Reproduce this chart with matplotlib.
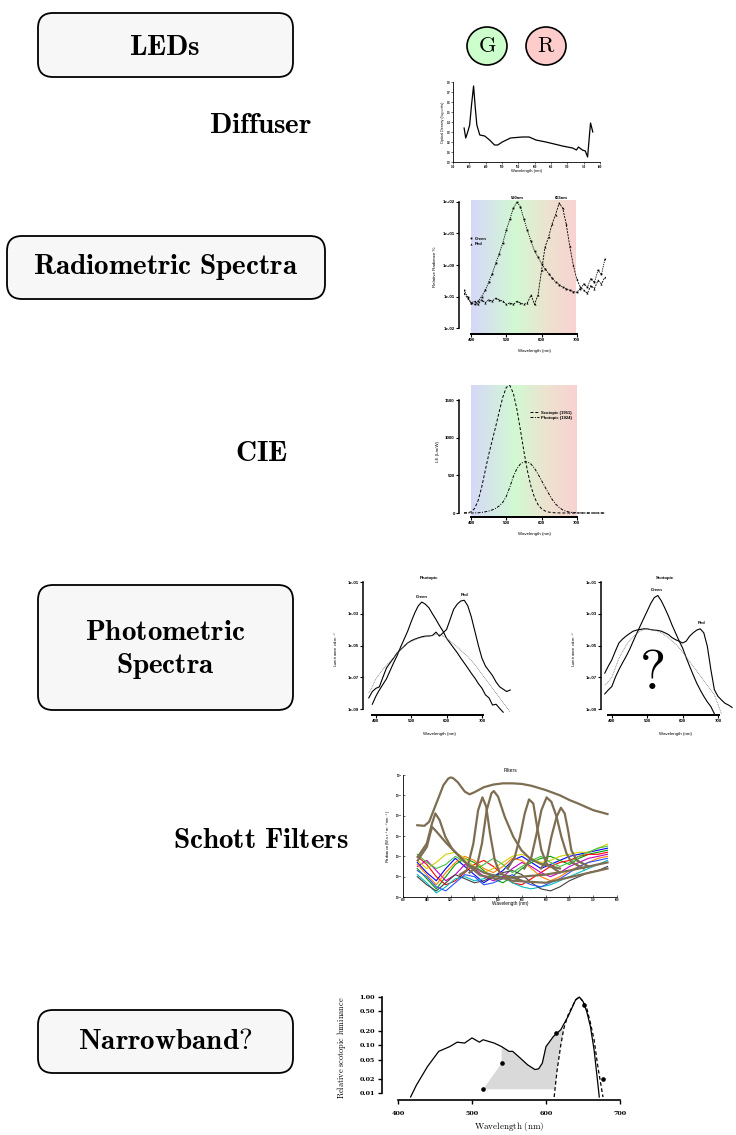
import numpy as np
import matplotlib.pyplot as plt
from matplotlib.patches import FancyBboxPatch, Ellipse
from matplotlib.colors import LinearSegmentedColormap
from matplotlib.ticker import FuncFormatter, FixedLocator, NullLocator

# ---------------- data ----------------
diff_wl = [384, 389, 395, 401, 407, 413, 418, 423, 432, 447, 462, 477, 487, 501, 526,
           562, 583, 604, 634, 660, 685, 716, 728, 734, 746, 755, 762, 771, 778]
diff_od = [0.34, 0.24, 0.30, 0.37, 0.58, 0.76, 0.55, 0.37, 0.27, 0.26, 0.22, 0.17, 0.17, 0.20, 0.24,
           0.25, 0.25, 0.22, 0.20, 0.18, 0.16, 0.14, 0.12, 0.15, 0.12, 0.11, 0.05, 0.39, 0.30]

rad_wl = list(range(380, 790, 10))
rad_green_log = [-0.80, -1.0, -1.2, -1.25, -1.15, -1.0, -0.8, -0.55, -0.27, 0.05, 0.36, 0.7, 1.1, 1.45,
                 1.8, 2.0, 1.85, 1.45, 1.1, 0.75, 0.45, 0.25, 0.04, -0.12, -0.27, -0.42, -0.54, -0.62,
                 -0.7, -0.75, -0.8, -0.84, -0.86, -0.75, -0.6, -0.7, -0.43, -0.55, -0.17, -0.3, 0.2]
rad_red_log = [-0.9, -1.05, -1.2, -1.15, -1.25, -1.1, -1.2, -1.1, -1.15, -1.05, -1.1, -1.15, -1.25, -1.2,
               -1.25, -1.15, -1.2, -1.25, -1.2, -0.95, -1.25, -0.95, -0.17, 0.57, 0.89, 1.31, 1.6, 1.97,
               1.8, 1.3, 0.6, 0.0, -0.45, -0.7, -0.8, -0.9, -0.65, -0.75, -0.49, -0.6, -0.38]

cie_wl = list(range(380, 790, 10))
scotopic = [1.0, 3.8, 15.8, 59.2, 164.2, 339.7, 557.8, 773.5, 963.9, 1149.2, 1348.1, 1536.8, 1669.4,
            1694.9, 1589.5, 1378.7, 1105.0, 817.7, 559.0, 352.9, 206.0, 111.4, 56.4, 27.1, 12.5, 5.7,
            2.5, 1.2, 0.5, 0.3, 0.1, 0.1, 0.0, 0.0, 0.0, 0.0, 0.0, 0.0, 0.0, 0.0, 0.0]
photopic = [0.03, 0.08, 0.27, 0.82, 2.73, 7.92, 15.7, 26.0, 41.0, 62.2, 94.9, 142.1, 220.6, 343.5,
            484.9, 588.7, 651.6, 679.6, 679.6, 650.2, 594.2, 517.0, 431.0, 343.5, 260.2, 181.0, 119.5,
            73.1, 41.7, 21.9, 11.6, 5.6, 2.8, 1.4, 0.7, 0.4, 0.2, 0.1, 0.04, 0.02, 0.01]

# photometric spectra, log10 luminance
pho_wl = list(range(380, 790, 10))
pho_green_log = [np.nan, -8.7, -8.2, -7.8, -7.45, -7.1, -6.6, -6.1, -5.65, -5.1, -4.6, -4.1, -3.5, -2.95,
                 -2.5, -2.26, -2.4, -2.62, -3.0, -3.36, -3.75, -4.1, -4.55, -4.85, -5.15, -5.45, -5.79,
                 -6.1, -6.42, -6.75, -7.05, -7.4, -7.69, -8.11, -8.3, -8.75, -8.7, -8.96, -9.2, np.nan, np.nan]
pho_red_log = [-8.3, -7.9, -7.7, -7.6, -7.0, -6.42, -6.1, -5.8, -5.47, -5.25, -5.05, -4.84, -4.7, -4.6,
               -4.52, -4.45, -4.41, -4.4, -4.37, -4.16, -4.41, -4.2, -3.99, -3.36, -2.72, -2.4, -2.2,
               -2.15, -2.5, -3.2, -4.1, -5.0, -5.8, -6.3, -6.6, -6.9, -7.3, -7.6, -7.75, -7.9, -7.8]
pho_ref_log = [-8.0, -7.6, -7.1, -6.8, -6.5, -6.25, -6.0, -5.75, -5.5, -5.25, -5.0, -4.85, -4.75, -4.65,
               -4.55, -4.5, -4.45, -4.4, -4.35, -4.3, -4.3, -4.4, -4.55, -4.7, -4.9, -5.1, -5.3, -5.5,
               -5.7, -5.95, -6.2, -6.5, -6.8, -7.1, -7.4, -7.7, -8.0, -8.3, -8.6, -8.9, -9.2]

sco_wl = list(range(380, 750, 10))
sco_green_log = [-8.05, -7.8, -7.58, -7.0, -6.52, -6.1, -5.7, -5.26, -4.75, -4.25, -3.78, -3.3, -2.83,
                 -2.35, -1.98, -1.85, -2.19, -2.65, -3.14, -3.7, -4.2, -4.7, -5.15, -5.75, -6.31, -6.85,
                 -7.37, -7.8, -8.2, -8.55, -8.85, -9.3, np.nan, np.nan, np.nan, np.nan, np.nan]
sco_red_log = [-6.74, -6.3, -5.9, -5.35, -4.84, -4.6, -4.41, -4.25, -4.1, -4.03, -3.99, -3.95, -3.95,
               -4.0, -4.03, -4.05, -4.1, -4.2, -4.31, -4.5, -4.63, -4.73, -4.84, -4.73, -4.41, -4.2,
               -4.03, -3.95, -4.2, -5.05, -6.52, -7.79, -8.2, -8.43, -8.64, -8.75, -8.9]
sco_ref_log = [-7.5, -7.3, -7.0, -6.4, -5.8, -5.4, -5.0, -4.7, -4.45, -4.25, -4.1, -4.0, -3.95, -4.0,
               -4.05, -4.1, -4.2, -4.35, -4.5, -4.7, -4.9, -5.15, -5.4, -5.7, -6.0, -6.3, -6.6, -6.9,
               -7.2, -7.5, -7.8, -8.1, -8.7, -9.3, np.nan, np.nan, np.nan]

# Schott filters, log10 radiance
filt_broad_wl = [380, 395, 405, 420, 435, 445, 450, 455, 465, 480, 490, 500, 520, 540, 560, 580, 600,
                 620, 650, 680, 700, 720, 750, 780]
filt_broad_log = [-2.47, -2.5, -2.3, -1.4, -0.5, -0.18, -0.12, -0.15, -0.35, -0.82, -0.95, -0.85, -0.6,
                  -0.47, -0.41, -0.41, -0.44, -0.53, -0.74, -1.0, -1.23, -1.42, -1.73, -1.92]
filt_peak_wl = [
    [381, 400, 411, 418, 427, 439, 453, 470, 491, 512, 547, 600, 650, 700, 780],
    [381, 400, 411, 421, 442, 463, 484, 520, 580, 650, 780],
    [470, 484, 498, 508, 517, 525, 533, 543, 554, 600],
    [490, 505, 516, 526, 536, 541, 550, 564, 582, 599, 617, 638, 680],
    [570, 585, 596, 606, 615, 624, 632, 641, 652, 680],
    [605, 620, 631, 641, 652, 662, 673, 683, 694, 704, 730],
    [640, 652, 662, 673, 682, 690, 697, 704, 715, 740],
]
filt_peak_log = [
    [-4.03, -3.37, -2.38, -1.89, -2.22, -3.04, -3.62, -4.03, -4.52, -4.93, -5.1, -5.0, -4.9, -4.7, -4.3],
    [-4.2, -3.54, -2.55, -2.8, -3.37, -3.87, -4.36, -4.8, -5.2, -5.3, -4.6],
    [-4.9, -4.69, -3.37, -1.73, -1.1, -1.56, -2.88, -4.19, -4.85, -5.2],
    [-4.8, -4.52, -3.37, -1.73, -0.9, -0.79, -1.07, -2.06, -3.04, -3.7, -4.11, -4.36, -4.6],
    [-4.6, -4.03, -3.04, -1.89, -1.2, -1.4, -2.55, -3.7, -4.36, -4.8],
    [-4.6, -4.03, -2.88, -1.73, -1.1, -1.32, -2.06, -3.04, -3.87, -4.28, -4.6],
    [-4.6, -4.19, -3.04, -2.06, -1.61, -1.89, -2.71, -3.7, -4.19, -4.5],
]
noise_wl = list(range(380, 790, 20))
noise_log = [
    [-4.3, -4.8, -5.2, -4.6, -4.1, -4.5, -4.9, -5.3, -5.0, -4.7, -4.2, -4.0, -4.3, -4.6, -4.4, -4.2, -4.0, -3.9, -3.8, -3.7, -3.6],
    [-4.6, -5.1, -5.6, -5.0, -4.4, -4.1, -4.3, -4.7, -5.1, -5.3, -5.0, -4.6, -4.3, -4.1, -4.0, -4.2, -4.4, -4.1, -3.9, -3.8, -3.7],
    [-4.0, -4.4, -5.0, -5.4, -5.2, -4.8, -4.4, -4.2, -4.5, -4.9, -5.3, -5.4, -5.1, -4.8, -4.5, -4.3, -4.2, -4.0, -3.9, -3.9, -3.8],
    [-4.9, -5.3, -5.8, -5.5, -5.1, -5.0, -5.2, -5.1, -4.9, -5.0, -5.3, -5.5, -5.6, -5.5, -5.4, -5.2, -5.0, -4.8, -4.6, -4.4, -4.2],
    [-4.5, -4.2, -4.7, -5.2, -4.9, -4.4, -4.6, -5.0, -5.2, -5.0, -4.6, -4.3, -4.5, -4.8, -5.0, -4.8, -4.5, -4.3, -4.1, -4.0, -3.9],
    [-4.2, -4.6, -4.3, -3.9, -3.8, -4.1, -4.5, -4.8, -4.6, -4.3, -4.0, -3.9, -4.1, -4.3, -4.2, -4.0, -3.9, -3.8, -3.8, -3.6, -3.4],
    [-5.0, -5.4, -5.7, -5.3, -4.9, -5.1, -5.3, -5.2, -5.0, -4.8, -4.7, -4.9, -5.3, -5.6, -5.7, -5.5, -5.2, -5.0, -4.8, -4.7, -4.5],
    [-4.4, -4.9, -5.4, -4.8, -4.3, -4.0, -4.2, -4.6, -4.8, -4.5, -4.1, -4.2, -4.6, -5.0, -5.2, -5.0, -4.7, -4.5, -4.3, -4.1, -4.0],
    [-4.7, -5.0, -5.5, -5.7, -5.3, -4.9, -5.0, -5.4, -5.3, -5.1, -4.9, -5.2, -5.4, -5.5, -5.3, -5.1, -4.8, -4.5, -4.3, -4.2, -4.1],
    [-3.9, -4.3, -4.6, -4.4, -4.0, -4.3, -4.7, -4.4, -4.1, -4.4, -4.8, -4.5, -4.2, -4.0, -4.3, -4.5, -4.3, -4.0, -3.8, -3.6, -3.5],
]
noise_colors = ['#0000ff', '#00a000', '#ff0000', '#00c0c0', '#c000c0', '#d0d000', '#404040',
                '#ff8000', '#3050ff', '#40c040']

# narrowband
nb_wl = [417, 425, 440, 455, 470, 480, 490, 500, 510, 515, 530, 540, 550, 555, 565, 575, 585, 590,
         595, 600, 610, 620, 630, 640, 645, 650, 655, 660, 665, 670, 672]
nb_lum = [0.0083, 0.0148, 0.036, 0.074, 0.093, 0.115, 0.11, 0.141, 0.115, 0.129, 0.11, 0.093, 0.074,
          0.074, 0.054, 0.039, 0.031, 0.032, 0.042, 0.093, 0.151, 0.209, 0.40, 0.87, 1.0, 0.81, 0.5,
          0.245, 0.079, 0.016, 0.0083]
nb_filt_wl = [611, 615, 620, 624, 630, 640, 645, 650, 655, 660, 665, 670, 677]
nb_filt = [0.0083, 0.03, 0.1, 0.22, 0.43, 0.87, 1.0, 0.81, 0.59, 0.29, 0.129, 0.036, 0.0083]
nb_pts_wl = [515, 540, 614, 652, 677]
nb_pts = [0.012, 0.042, 0.178, 0.69, 0.0195]
shade_wl = [515, 540, 540, 550, 555, 565, 575, 585, 590, 595, 600, 610, 620, 624, 620, 615, 612]
shade_val = [0.012, 0.042, 0.093, 0.074, 0.074, 0.054, 0.039, 0.031, 0.032, 0.042, 0.093, 0.151,
             0.209, 0.22, 0.1, 0.03, 0.012]

# ---------------- figure ----------------
plt.rcParams['mathtext.fontset'] = 'cm'
plt.rcParams['font.family'] = ['Liberation Sans', 'DejaVu Sans']
plt.rcParams['font.weight'] = 'bold'

W, H = 736, 1135
fig = plt.figure(figsize=(7.36, 11.35), dpi=100)


def rect(l, t, r, b):
    return [l / W, 1 - b / H, (r - l) / W, (b - t) / H]


spec_cmap = LinearSegmentedColormap.from_list(
    'spec', [(0, '#d6d8f8'), (0.42, '#d2f9d2'), (0.72, '#ede2cf'), (1, '#f9d2d2')])


def gradient(ax):
    g = np.linspace(0, 1, 256)[None, :]
    ax.imshow(g, cmap=spec_cmap, extent=(400, 700, 0, 1), transform=ax.get_xaxis_transform(),
              aspect='auto', zorder=0)


def prism(ax, out, fs=3.2, lw=1.1):
    for s in ['top', 'right']:
        ax.spines[s].set_visible(False)
    ax.spines['left'].set_position(('outward', out))
    ax.spines['left'].set_linewidth(lw)
    ax.spines['bottom'].set_linewidth(lw * 1.3)
    ax.tick_params(labelsize=fs, length=2, width=0.8, pad=1)
    ax.yaxis.set_minor_locator(NullLocator())
    ax.patch.set_alpha(0)


sci = FuncFormatter(lambda v, _: f'{v:.0e}')

# background panel with boxes and labels
bg = fig.add_axes([0, 0, 1, 1])
bg.set_xlim(0, W)
bg.set_ylim(H, 0)
bg.axis('off')

boxes = [(38, 13, 293, 77), (7, 236, 325, 299), (38, 585, 293, 710), (38, 1010, 293, 1073)]
for l, t, r, b in boxes:
    bg.add_patch(FancyBboxPatch((l, t), r - l, b - t, boxstyle='round,pad=0,rounding_size=15',
                                fc='#f7f7f7', ec='black', lw=1.3))

big = 21
labels = [(165, 47, r'$\mathbf{LEDs}$'), (261, 125, r'$\mathbf{Diffuser}$'),
          (166, 267, r'$\mathbf{Radiometric\ Spectra}$'), (261, 453, r'$\mathbf{CIE}$'),
          (165, 632, r'$\mathbf{Photometric}$'), (165, 666, r'$\mathbf{Spectra}$'),
          (261, 840, r'$\mathbf{Schott\ Filters}$'), (165, 1041, r'$\mathbf{Narrowband?}$')]
for x, y, s in labels:
    bg.text(x, y, s, fontsize=big, ha='center', va='center')

for cx, fc, s in [(487, '#ccffcc', 'G'), (546, '#ffcccc', 'R')]:
    bg.add_patch(Ellipse((cx, 46), 40, 38, fc=fc, ec='black', lw=1.2))
    bg.text(cx, 46, r'$\mathrm{%s}$' % s, fontsize=16, ha='center', va='center')

bg.text(652, 675, r'$\mathbf{?}$', fontsize=40, ha='center', va='center')

# ---- diffuser ----
ax = fig.add_axes(rect(453, 82, 600, 162))
ax.plot(diff_wl, diff_od, color='black', lw=0.9)
ax.set_xlim(350, 800)
ax.set_ylim(0, 0.8)
ax.set_xticks(range(350, 801, 50))
ax.set_yticks(np.arange(0, 0.81, 0.1))
ax.yaxis.set_major_formatter(FuncFormatter(lambda v, _: f'{v:.1f}'))
for s in ['top', 'right']:
    ax.spines[s].set_visible(False)
for s in ['left', 'bottom']:
    ax.spines[s].set_linewidth(0.6)
ax.tick_params(labelsize=1.8, length=1.2, width=0.4, pad=0.8)
ax.set_ylabel('Optical Density (log units)', fontsize=2.6, labelpad=1)
ax.set_xlabel('Wavelength (nm)', fontsize=3, labelpad=0.5)
ax.patch.set_alpha(0)

# ---- radiometric spectra ----
ax = fig.add_axes(rect(464, 200, 605, 334))
gradient(ax)
ax.plot(rad_wl, 10 ** np.array(rad_green_log), ls=(0, (1.5, 1.2)), lw=0.6, color='black',
        marker='s', ms=1.3, mew=0, label='Green', zorder=3)
ax.plot(rad_wl, 10 ** np.array(rad_red_log), ls=(0, (2.5, 1.2)), lw=0.6, color='black',
        marker='^', ms=1.5, mew=0, label='Red', zorder=3)
ax.set_yscale('log')
ax.set_xlim(380, 780)
ax.set_ylim(0.0065, 115)
prism(ax, 3.6)
ax.spines['left'].set_bounds(0.01, 100)
ax.spines['bottom'].set_bounds(400, 700)
ax.set_xticks([400, 500, 600, 700])
ax.yaxis.set_major_locator(FixedLocator([0.01, 0.1, 1, 10, 100]))
ax.yaxis.set_major_formatter(sci)
ax.set_ylabel('Relative Radiance %', fontsize=3.2, labelpad=4)
ax.set_xlabel('Wavelength (nm)', fontsize=3.2, labelpad=5)
ax.text(530, 118, '530nm', fontsize=3, ha='center', va='bottom')
ax.text(657, 118, '655nm', fontsize=3, ha='center', va='bottom')
leg = ax.legend(loc='upper left', bbox_to_anchor=(0.03, 0.74), fontsize=3, frameon=False,
                handlelength=0.4, handletextpad=0.6, labelspacing=0.3, borderpad=0)
for h in leg.legend_handles:
    h.set_linestyle('none')

# ---- CIE ----
ax = fig.add_axes(rect(464, 385, 605, 517))
gradient(ax)
ax.plot(cie_wl, scotopic, ls=(0, (3, 2)), lw=0.7, color='black', label='Scotopic (1951)', zorder=3)
ax.plot(cie_wl, photopic, ls=(0, (3, 1.5, 1, 1.5)), lw=0.7, color='black', label='Photopic (1924)',
        zorder=3)
ax.set_xlim(380, 780)
ax.set_ylim(-53, 1700)
prism(ax, 3.6)
ax.spines['left'].set_bounds(0, 1500)
ax.spines['bottom'].set_bounds(400, 700)
ax.set_xticks([400, 500, 600, 700])
ax.set_yticks([0, 500, 1000, 1500])
ax.set_ylabel('LE (Lm/W)', fontsize=3.2, labelpad=4)
ax.set_xlabel('Wavelength (nm)', fontsize=3.2, labelpad=5)
ax.legend(loc='upper left', bbox_to_anchor=(0.45, 0.82), fontsize=3, frameon=False,
          handlelength=2.2, handletextpad=0.5, labelspacing=0.2, borderpad=0)


# ---- photometric panels ----
def phot_panel(l, r_px, wl, g, rd, ref, title, green_xy, red_xy, out):
    ax = fig.add_axes(rect(l, 582, r_px, 715))
    ax.plot(wl, 10 ** np.array(g), color='black', lw=0.8)
    ax.plot(wl, 10 ** np.array(rd), color='black', lw=0.8)
    ax.plot(wl, 10 ** np.array(ref), color='#777777', lw=0.6, ls=(0, (1, 1)))
    ax.set_yscale('log')
    ax.set_xlim(375, 785)
    ax.set_ylim(4.2e-10, 1e-1)
    prism(ax, out)
    ax.spines['left'].set_bounds(1e-9, 1e-1)
    ax.spines['bottom'].set_bounds(388, 703)
    ax.set_xticks([400, 500, 600, 700])
    ax.yaxis.set_major_locator(FixedLocator([1e-9, 1e-7, 1e-5, 1e-3, 1e-1]))
    ax.yaxis.set_major_formatter(sci)
    ax.set_ylabel(r'Luminance cd.m$^{-2}$', fontsize=3, labelpad=5)
    ax.set_xlabel('Wavelength (nm)', fontsize=3.2, labelpad=6)
    ax.text(green_xy[0], green_xy[1], 'Green', fontsize=3, ha='center', va='bottom')
    ax.text(red_xy[0], red_xy[1], 'Red', fontsize=3, ha='center', va='bottom')
    ax.text(0.5 * (400 + 700), 1.3e-1, title, fontsize=3.2, ha='center', va='bottom')
    return ax


phot_panel(367, 512, pho_wl, pho_green_log, pho_red_log, pho_ref_log, 'Photopic',
           (530, 8e-3), (650, 1.1e-2), 3.0)
phot_panel(603, 748, sco_wl, sco_green_log, sco_red_log, sco_ref_log, 'Scotopic',
           (527, 2.4e-2), (655, 1.9e-4), 1.6)

# ---- Schott filters ----
ax = fig.add_axes(rect(403, 775, 617, 897))
for vals, c in zip(noise_log, noise_colors):
    ax.plot(noise_wl, 10 ** np.array(vals), color=c, lw=0.8)
brown = '#7d6e52'
ax.plot(filt_broad_wl, 10 ** np.array(filt_broad_log), color=brown, lw=1.6)
for wl, vals in zip(filt_peak_wl, filt_peak_log):
    ax.plot(wl, 10 ** np.array(vals), color=brown, lw=1.6)
ax.set_yscale('log')
ax.set_xlim(350, 800)
ax.set_ylim(1e-6, 1)
ax.set_xticks(range(350, 801, 50))
ax.yaxis.set_minor_locator(NullLocator())
for s in ['top', 'right']:
    ax.spines[s].set_visible(False)
for s in ['left', 'bottom']:
    ax.spines[s].set_linewidth(0.6)
ax.tick_params(labelsize=2, length=1.2, width=0.4, pad=0.8, direction='in')
ax.set_title('Filters', fontsize=3.6, pad=2)
ax.set_ylabel(r'Radiance (W.sr$^{-1}$m$^{-2}$nm$^{-1}$)', fontsize=3, labelpad=1)
ax.set_xlabel('Wavelength (nm)', fontsize=3.4, labelpad=-1)
ax.patch.set_alpha(0)

# ---- narrowband ----
ax = fig.add_axes(rect(398, 996, 620, 1100))
ax.fill(shade_wl, shade_val, color='#d9d9d9', lw=0, zorder=1)
ax.plot(nb_wl, nb_lum, color='black', lw=0.9, zorder=2)
ax.plot(nb_filt_wl, nb_filt, color='black', lw=0.9, ls=(0, (3, 2)), zorder=2)
ax.plot(nb_pts_wl, nb_pts, 'o', color='black', ms=2.3, zorder=3)
ax.set_yscale('log')
ax.set_xlim(400, 700)
ax.set_ylim(0.0072, 1.05)
for s in ['top', 'right']:
    ax.spines[s].set_visible(False)
ax.spines['left'].set_position(('outward', 11.5))
ax.spines['left'].set_bounds(0.01, 1.0)
ax.spines['left'].set_linewidth(1.2)
ax.spines['bottom'].set_linewidth(1.2)
ytk = [0.01, 0.02, 0.05, 0.1, 0.2, 0.5, 1.0]
ax.yaxis.set_major_locator(FixedLocator(ytk))
ax.yaxis.set_minor_locator(NullLocator())
ax.yaxis.set_major_formatter(FuncFormatter(lambda v, _: f'{v:.2f}'))
ax.set_xticks([400, 500, 600, 700])
ax.tick_params(labelsize=4.6, length=3, width=1.0, pad=2)
ax.tick_params(axis='x', pad=5)
for lab in ax.get_xticklabels() + ax.get_yticklabels():
    lab.set_fontfamily('DejaVu Serif')
    lab.set_fontweight('bold')
ax.set_ylabel(r'$\mathrm{Relative\ scotopic\ luminance}$', fontsize=6, labelpad=8)
ax.set_xlabel(r'$\mathrm{Wavelength\ (nm)}$', fontsize=6.5, labelpad=3)
ax.patch.set_alpha(0)

fig.savefig('out.png', dpi=100)
